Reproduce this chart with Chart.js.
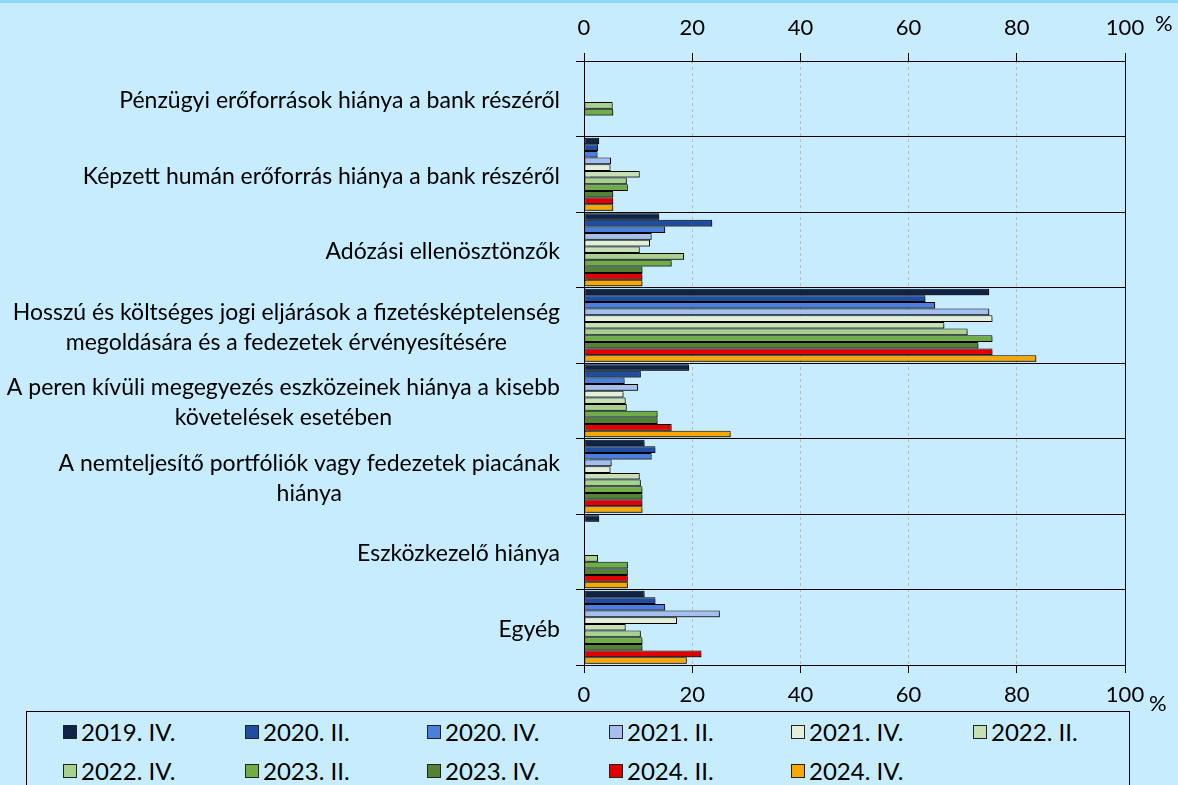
<!DOCTYPE html>
<html>
<head>
<meta charset="utf-8">
<script src="https://cdn.jsdelivr.net/npm/chart.js@4"></script>
<style>
  html, body { margin: 0; padding: 0; }
  body {
    width: 1178px; height: 785px; overflow: hidden; position: relative;
    background: #c6ecfd; font-family: Lato, sans-serif;
  }
  #topStrip { position: absolute; left: 0; top: 0; width: 1178px; height: 3px; background: #8fd8f8; }
  #wrap { position: absolute; left: 0; top: 0; width: 1178px; height: 711px; }
  #legend {
    position: absolute; left: 26px; top: 711px; width: 1104px; height: 90px;
    border: 1px solid #000; box-sizing: border-box;
  }
  .item { position: absolute; display: flex; align-items: center; font-size: 24px; color: #000; white-space: nowrap; }
  .box { width: 12px; height: 12px; border: 1px solid #222; margin-right: 4px; }
</style>
</head>
<body>
<div id="topStrip"></div>
<div id="wrap"><canvas id="chart" width="1178" height="711"></canvas></div>
<div id="legend"></div>
<script>
// ===== DATOS =====
const categorias = [
    'Pénzügyi erőforrások hiánya a bank részéről',
    'Képzett humán erőforrás hiánya a bank részéről',
    'Adózási ellenösztönzők',
    ['Hosszú és költséges jogi eljárások a fizetésképtelenség', 'megoldására és a fedezetek érvényesítésére'],
    ['A peren kívüli megegyezés eszközeinek hiánya a kisebb', 'követelések esetében'],
    ['A nemteljesítő portfóliók vagy fedezetek piacának', 'hiánya'],
    'Eszközkezelő hiánya',
    'Egyéb'
];

const periodos = ['2019. IV.', '2020. II.', '2020. IV.', '2021. II.', '2021. IV.', '2022. II.',
                  '2022. IV.', '2023. II.', '2023. IV.', '2024. II.', '2024. IV.'];

const colores = ['#0f2347', '#1f4ea1', '#4a7fdd', '#a5c0f0', '#e3efd8', '#c6e0b4',
                 '#a9d18e', '#70ad47', '#548235', '#e00000', '#f6a800'];

// valores por período (una fila por período, una columna por categoría)
const v2019IV  = [null, 2.8, 13.9, 74.9, 19.4, 11.2, 2.8, 11.2];
const v2020II  = [null, 2.6, 23.7, 63.1, 10.5, 13.2, null, 13.2];
const v2020IV  = [null, 2.5, 15.0, 64.9, 7.5, 12.5, null, 15.0];
const v2021II  = [null, 5.0, 12.5, 74.9, 10.0, 5.1, null, 25.1];
const v2021IV  = [null, 4.9, 12.2, 75.5, 7.3, 4.9, null, 17.2];
const v2022II  = [null, 10.3, 10.3, 66.6, 7.7, 10.3, null, 7.7];
const v2022IV  = [5.3, 7.9, 18.5, 70.9, 7.9, 10.5, 2.6, 10.5];
const v2023II  = [5.4, 8.1, 16.2, 75.5, 13.6, 10.8, 8.1, 10.8];
const v2023IV  = [null, 5.4, 10.8, 72.9, 13.6, 10.8, 8.1, 10.8];
const v2024II  = [null, 5.4, 10.8, 75.5, 16.2, 10.8, 8.1, 21.7];
const v2024IV  = [null, 5.4, 10.8, 83.6, 27.1, 10.8, 8.1, 19.0];

const valores = [v2019IV, v2020II, v2020IV, v2021II, v2021IV, v2022II,
                 v2022IV, v2023II, v2023IV, v2024II, v2024IV];

const ejeTicks = [0, 20, 40, 60, 80, 100];

const FUENTE = 'Lato, sans-serif';

// ===== PLUGINS =====
// sombra de las barras
const sombraPlugin = {
    id: 'sombra',
    beforeDatasetsDraw(chart) {
        const ctx = chart.ctx;
        ctx.save();
        ctx.shadowColor = 'rgba(0,0,0,0.45)';
        ctx.shadowOffsetX = 2;
        ctx.shadowOffsetY = 2;
        ctx.shadowBlur = 1;
    },
    afterDatasetsDraw(chart) {
        chart.ctx.restore();
    }
};

// etiquetas de categorías, borde derecho y signo %
const etiquetasPlugin = {
    id: 'etiquetas',
    afterDraw(chart) {
        const ctx = chart.ctx;
        const y = chart.scales.y;
        const area = chart.chartArea;
        ctx.save();
        ctx.font = '23px ' + FUENTE;
        ctx.fillStyle = '#000';
        ctx.textBaseline = 'middle';
        const derecha = area.left - 24;
        categorias.forEach((cat, i) => {
            const lineas = Array.isArray(cat) ? cat : [cat];
            const yc = y.getPixelForValue(i) + 2;
            const maxW = Math.max(...lineas.map(l => ctx.measureText(l).width));
            const cx = derecha - maxW / 2;
            lineas.forEach((l, j) => {
                const yy = yc + (j - (lineas.length - 1) / 2) * 30;
                if (lineas.length === 1) {
                    ctx.textAlign = 'right';
                    ctx.fillText(l, derecha, yy);
                } else {
                    ctx.textAlign = 'center';
                    ctx.fillText(l, cx, yy);
                }
            });
        });

        // borde derecho en 100
        ctx.strokeStyle = '#000';
        ctx.lineWidth = 1;
        ctx.beginPath();
        ctx.moveTo(Math.round(area.right) + 0.5, area.top);
        ctx.lineTo(Math.round(area.right) + 0.5, area.bottom);
        ctx.stroke();

        // signo %
        ctx.textAlign = 'left';
        ctx.font = '22px ' + FUENTE;
        ctx.fillText('%', area.right + 30, 24);
        ctx.fillText('%', area.right + 24, 704);
        ctx.restore();
    }
};

// ===== GRÁFICO =====
const ctx = document.getElementById('chart').getContext('2d');

new Chart(ctx, {
    type: 'bar',
    data: {
        labels: categorias,
        datasets: periodos.map((p, i) => ({
            label: p,
            data: valores[i],
            backgroundColor: colores[i],
            borderColor: '#000',
            borderWidth: 1,
            borderSkipped: false,
            categoryPercentage: 0.97,
            barPercentage: 1.0
        }))
    },
    options: {
        indexAxis: 'y',
        responsive: false,
        animation: false,
        layout: { padding: { left: 0, right: 53, top: 0, bottom: 0 } },
        plugins: {
            legend: { display: false },
            tooltip: { enabled: false }
        },
        scales: {
            x: {
                position: 'bottom',
                min: 0, max: 100,
                afterBuildTicks: s => { s.ticks = ejeTicks.map(v => ({ value: v })); },
                afterFit: s => { s.height = 46; },
                grid: {
                    color: c => (c.tick && (c.tick.value === 0 || c.tick.value === 100)) ? 'rgba(0,0,0,0)' : '#b8bcc0',
                    tickColor: '#000',
                    tickLength: 8
                },
                border: { display: true, color: '#000', width: 1, dash: [3, 3] },
                ticks: {
                    color: '#000',
                    font: { family: FUENTE, size: 22 },
                    padding: 9,
                    maxRotation: 0
                }
            },
            x2: {
                position: 'top',
                min: 0, max: 100,
                afterBuildTicks: s => { s.ticks = ejeTicks.map(v => ({ value: v })); },
                afterFit: s => { s.height = 61; },
                grid: { drawOnChartArea: false, color: '#000', tickLength: 8 },
                border: { display: true, color: '#000', width: 1 },
                ticks: {
                    color: '#000',
                    font: { family: FUENTE, size: 22 },
                    padding: 12,
                    maxRotation: 0
                }
            },
            y: {
                afterFit: s => { s.width = 584; },
                grid: { color: '#000', tickColor: '#000', tickLength: 8, offset: true },
                border: { display: true, color: '#000', width: 1 },
                ticks: { display: false }
            }
        }
    },
    plugins: [sombraPlugin, etiquetasPlugin]
});

// ===== LEYENDA =====
const leyenda = document.getElementById('legend');
periodos.forEach((p, i) => {
    const item = document.createElement('div');
    item.className = 'item';
    item.style.left = (36 + (i % 6) * 182) + 'px';
    item.style.top = (Math.floor(i / 6) * 39 + 5) + 'px';
    const box = document.createElement('span');
    box.className = 'box';
    box.style.background = colores[i];
    const txt = document.createElement('span');
    txt.textContent = p;
    item.appendChild(box);
    item.appendChild(txt);
    leyenda.appendChild(item);
});
</script>
</body>
</html>
